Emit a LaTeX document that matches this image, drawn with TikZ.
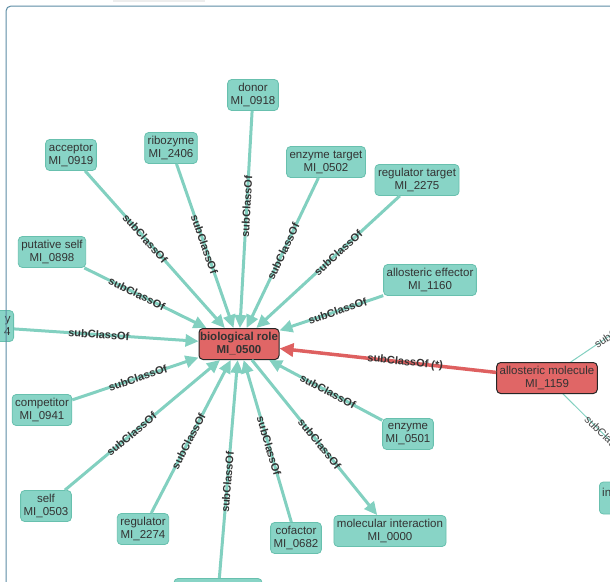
\documentclass[tikz,border=0pt]{standalone}
\usepackage{fontspec}
\setmainfont{Liberation Sans}
\usetikzlibrary{arrows.meta}
\definecolor{tealfill}{RGB}{136,212,198}
\definecolor{tealdraw}{RGB}{104,192,174}
\definecolor{tealline}{RGB}{130,208,192}
\definecolor{redfill}{RGB}{224,102,102}
\definecolor{redline}{RGB}{222,96,96}
\definecolor{txt}{RGB}{51,51,51}
\definecolor{framec}{RGB}{92,140,164}
\begin{document}
\begin{tikzpicture}[x=1pt,y=-1pt,
  tbox/.style={draw=tealdraw, fill=tealfill, line width=0.8pt, rounded corners=4pt,
    align=center, text=txt, font=\fontsize{11.5}{13}\selectfont,
    inner xsep=3pt, inner ysep=3pt, minimum height=31pt},
  rbox/.style={tbox, fill=redfill, draw=black!85, line width=1pt},
  tl/.style={draw=tealline, line width=3pt, -{Triangle[length=13pt,width=12pt]}},
  rl/.style={draw=redline, line width=3.5pt, -{Triangle[length=14pt,width=13pt]}},
  fl/.style={draw=tealline, line width=1pt},
  lbl/.style={font=\bfseries\fontsize{11}{11}\selectfont, text=txt, sloped, inner sep=1pt},
  flbl/.style={font=\fontsize{11}{11}\selectfont, text=txt!90, sloped, inner sep=1pt}
]
\useasboundingbox (0,0) rectangle (610,581);
\clip (0,0) rectangle (610,581);
\fill[black!7] (113,0) rectangle (205,2);

% nodes
\node[rbox, font=\bfseries\fontsize{11.5}{13}\selectfont, inner xsep=0.5pt, minimum width=80pt] (C) at (239,344) {biological role\\MI\_0500};
\node[tbox] (donor) at (253,95) {donor\\MI\_0918};
\node[tbox] (acceptor) at (71,155) {acceptor\\MI\_0919};
\node[tbox] (ribozyme) at (171,148) {ribozyme\\MI\_2406};
\node[tbox] (enztarget) at (326,162) {enzyme target\\MI\_0502};
\node[tbox] (regtarget) at (417,180) {regulator target\\MI\_2275};
\node[tbox] (putself) at (52,252) {putative self\\MI\_0898};
\node[tbox] (alloeff) at (430,280) {allosteric effector\\MI\_1160};
\node[tbox, anchor=east, text width=80pt, align=right] (leftp) at (14,326) {y\\4};
\node[tbox] (competitor) at (42,410) {competitor\\MI\_0941};
\node[tbox] (self) at (46,506) {self\\MI\_0503};
\node[tbox] (regulator) at (143,529) {regulator\\MI\_2274};
\node[tbox] (cofactor) at (296,538) {cofactor\\MI\_0682};
\node[tbox] (molint) at (390,531) {molecular interaction\\MI\_0000};
\node[tbox] (enzyme) at (408,434) {enzyme\\MI\_0501};
\node[tbox, minimum width=88pt] (bottomp) at (218,594) {};
\node[tbox, anchor=west, minimum width=90pt, minimum height=32pt] (rightp) at (599,498) {};
\node[anchor=west, text=txt, font=\fontsize{11.5}{13}\selectfont, inner sep=0pt] (rightt) at (602,492) {in};
\coordinate (far1) at (700,275);
\coordinate (far2) at (680,510);

% thin edges of allosteric molecule
\draw[fl] (547,378) coordinate (am) (am) -- node[flbl,pos=.47]{subClassOf} (far1);
\draw[fl] (am) -- node[flbl,pos=.45]{subClassOf} (far2);
\node[rbox] (allomol) at (547,378) {allosteric molecule\\MI\_1159};

% edges to biological role
\draw[tl] (donor) -- node[lbl,pos=.44]{subClassOf} (C);
\draw[tl] (acceptor) -- node[lbl,pos=.43]{subClassOf} (C);
\draw[tl] (ribozyme) -- node[lbl,pos=.49]{subClassOf} (C);
\draw[tl] (enztarget) -- node[lbl,pos=.49]{subClassOf} (C);
\draw[tl] (regtarget) -- node[lbl,pos=.43]{subClassOf} (C);
\draw[tl] (putself) -- node[lbl,pos=.43]{subClassOf} (C);
\draw[tl] (alloeff) -- node[lbl,pos=.44]{subClassOf} (C);
\draw[tl] (leftp) -- node[lbl,pos=.46]{subClassOf} (C);
\draw[tl] (competitor) -- node[lbl,pos=.52]{subClassOf} (C);
\draw[tl] (self) -- node[lbl,pos=.43]{subClassOf} (C);
\draw[tl] (regulator) -- node[lbl,pos=.47]{subClassOf} (C);
\draw[tl] (bottomp) -- node[lbl,pos=.44]{subClassOf} (C);
\draw[tl] (cofactor) -- node[lbl,pos=.47]{subClassOf} (C);
\draw[tl] (enzyme) -- node[lbl,pos=.48]{subClassOf} (C);
\draw[tl] (C) -- node[lbl,pos=.54]{subClassOf} (molint);
\draw[rl] (allomol) -- node[lbl,pos=.42]{subClassOf (*)} (C);

% frame
\draw[framec, line width=1pt, rounded corners=5pt] (6,600) -- (6,6) -- (630,6);
\end{tikzpicture}
\end{document}
